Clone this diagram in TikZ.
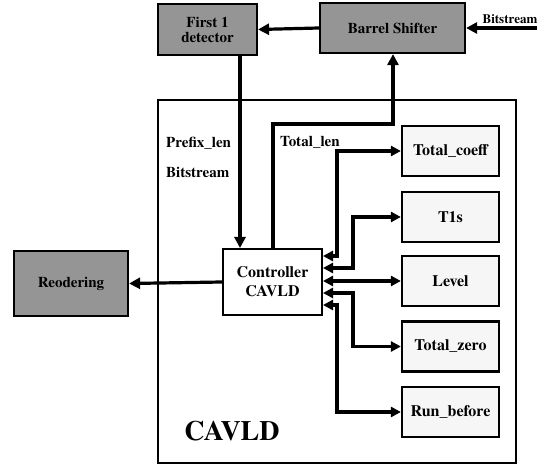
\documentclass[tikz,border=0pt]{standalone}
\usepackage{fontspec}
\setmainfont{texgyretermes}[Extension=.otf, UprightFont=*-regular, BoldFont=*-bold]
\usetikzlibrary{arrows.meta}
\definecolor{boxgray}{HTML}{959595}
\definecolor{lightbox}{HTML}{F6F6F6}
\tikzset{
  graybox/.style={draw=black, line width=2.2pt, fill=boxgray, inner sep=0pt, font=\bfseries\fontsize{15}{16}\selectfont, align=center},
  outbox/.style={draw=black, line width=2.2pt, fill=lightbox, minimum width=97pt, minimum height=50pt, inner sep=0pt, font=\bfseries\fontsize{16}{16}\selectfont},
  conn/.style={line width=3.2pt, -{Triangle[length=11pt,width=11pt]}},
  biconn/.style={line width=3.2pt, {Triangle[length=10pt,width=10pt]}-{Triangle[length=10pt,width=10pt]}},
  lbl/.style={font=\bfseries\fontsize{15}{16}\selectfont, inner sep=0pt}
}
\begin{document}
\begin{tikzpicture}[x=1pt,y=-1pt]
\useasboundingbox (0,0) rectangle (542,465);
% big CAVLD frame
\draw[line width=2pt] (158,100) rectangle (516,463);
\node[font=\bfseries\fontsize{28}{30}\selectfont, inner sep=0pt] (cavldlbl) at (232,431) {CAVLD};
% top boxes
\node[graybox, minimum width=99pt, minimum height=51pt] (first) at (207.5,29.5) {First 1\\[-1pt]detector};
\node[graybox, minimum width=145pt, minimum height=50pt] (barrel) at (392.5,28) {Barrel Shifter};
\node[graybox, minimum width=114pt, minimum height=65pt] (reord) at (71,283.5) {Reodering};
% controller
\node[draw=black, line width=2pt, fill=white, minimum width=99pt, minimum height=66pt, inner sep=0pt, align=center, font=\bfseries\fontsize{16}{19}\selectfont] (ctrl) at (272.5,282) {Controller\\CAVLD};
% right boxes
\node[outbox] (tc) at (450.5,151) {Total\_coeff};
\node[outbox] (t1) at (450.5,217) {T1s};
\node[outbox] (lv) at (450.5,281) {Level};
\node[outbox] (tz) at (450.5,346.5) {Total\_zero};
\node[outbox] (rb) at (450.5,412) {Run\_before};
% input bitstream
\coordinate (bsin) at (537,28);
\node[lbl, font=\bfseries\fontsize{13}{14}\selectfont, anchor=south] (bslbl) at (510,24) {Bitstream};
\draw[conn] (bsin) -- (barrel.east);
\draw[conn] (barrel.west) -- (first.east);
% first -> controller
\draw[conn] (first.south -| 240,0) -- (ctrl.north -| 240,0);
\node[lbl, anchor=west] (plen) at (166,143) {Prefix\_len};
\node[lbl, anchor=west] (bsl) at (166,172) {Bitstream};
% controller -> barrel
\draw[conn] (ctrl.north -| 273,0) |- (393,124) -- (barrel.south -| 393,0);
\node[lbl, anchor=west] (tlen) at (280,142) {Total\_len};
% controller -> reodering
\draw[conn] (ctrl.west) -- (reord.east);
% controller <-> right boxes
\draw[biconn] (ctrl.east |- 0,256) -| (337,151) -- (tc.west);
\draw[biconn] (ctrl.east |- 0,268) -| (353,217) -- (t1.west);
\draw[biconn] (ctrl.east |- 0,281) -- (lv.west);
\draw[biconn] (ctrl.east |- 0,293) -| (353,346.5) -- (tz.west);
\draw[biconn] (ctrl.east |- 0,305) -| (337,412) -- (rb.west);
\end{tikzpicture}
\end{document}
